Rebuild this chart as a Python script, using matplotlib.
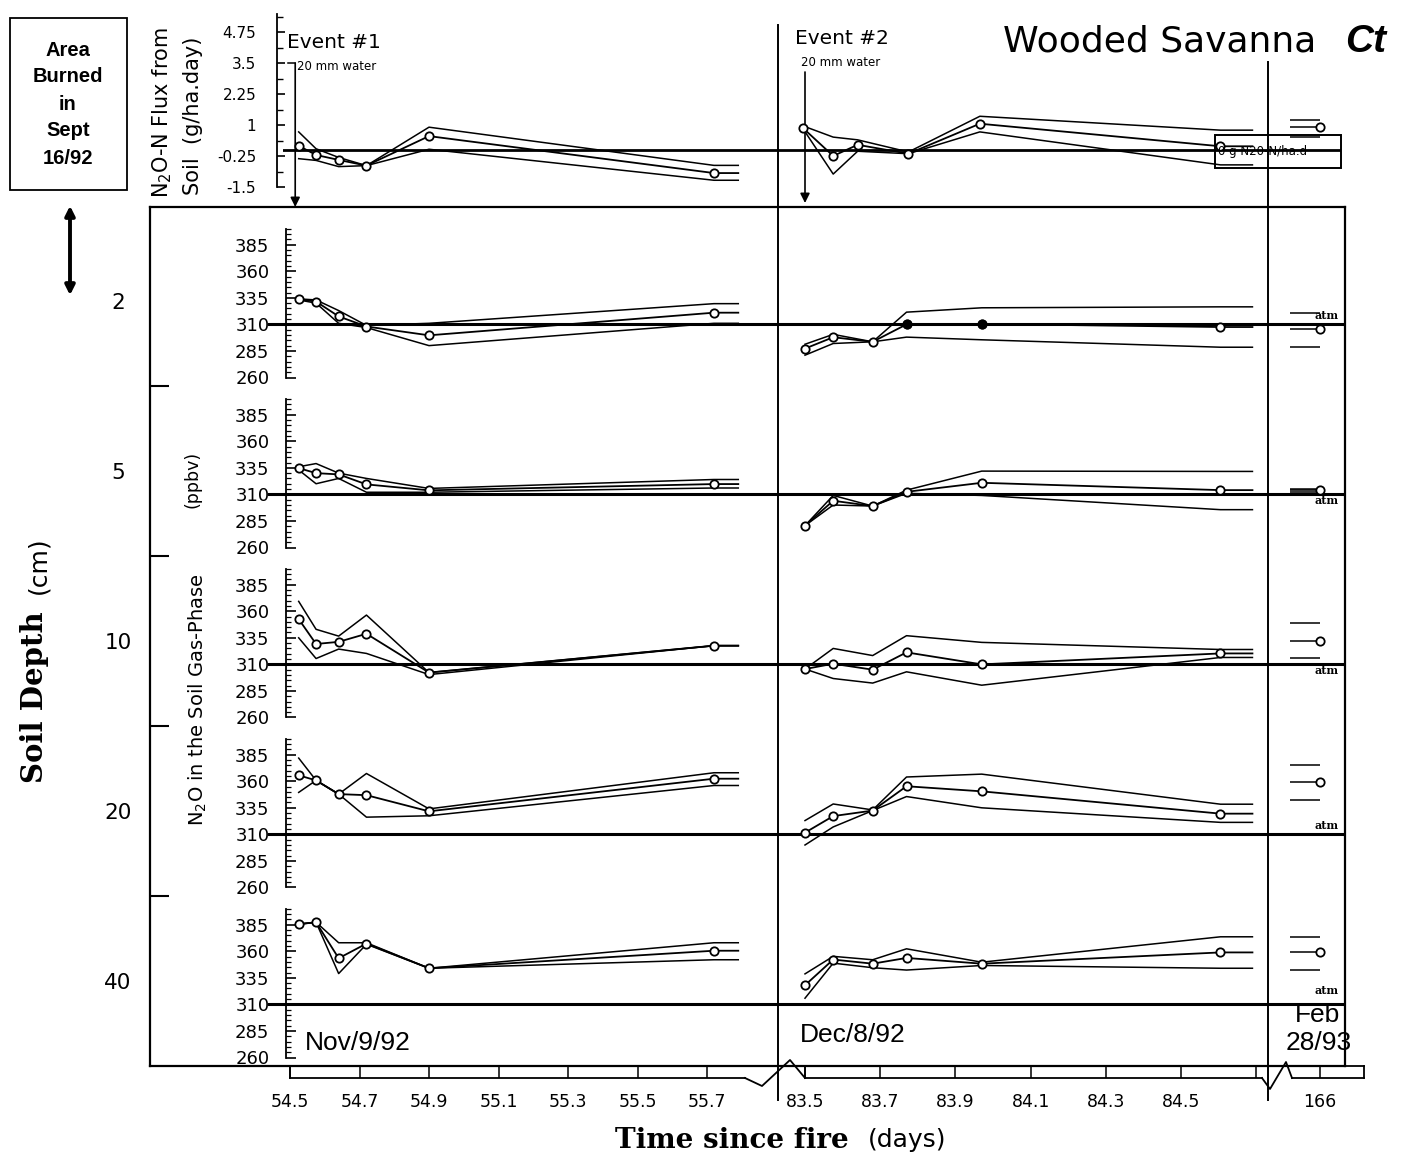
import matplotlib.pyplot as plt
from matplotlib.lines import Line2D
from matplotlib.patches import Rectangle, FancyArrowPatch
from matplotlib.transforms import blended_transform_factory

# ---------------- values ----------------
depths = ['2', '5', '10', '20', '40']

# sampling times (days since fire)
days_nov = [54.525, 54.575, 54.64, 54.72, 54.90, 55.72]
days_dec = [83.50, 83.575, 83.68, 83.77, 83.97, 84.605]
days_dec_flux = [83.495, 83.575, 83.64, 83.775, 83.965, 84.605]
day_feb = 166
end_nov = 55.79
end_dec = 84.69
event_days = [54.515, 83.5]

ticks_nov = [54.5, 54.7, 54.9, 55.1, 55.3, 55.5, 55.7]
ticks_dec = [83.5, 83.7, 83.9, 84.1, 84.3, 84.5, 84.7]
labels_dec = ['83.5', '83.7', '83.9', '84.1', '84.3', '84.5', '']
flux_ticks = [-1.5, -0.25, 1, 2.25, 3.5, 4.75]
ppbv_ticks = [260, 285, 310, 335, 360, 385]
atm_ppbv = 310

# N2O-N flux from soil (g/ha.day): mean, upper and lower envelope
flux_nov = [0.17, -0.2, -0.4, -0.63, 0.56, -0.93]
flux_nov_hi = [0.73, 0.05, -0.3, -0.63, 0.92, -0.62]
flux_nov_lo = [-0.35, -0.42, -0.67, -0.63, 0.03, -1.22]
flux_dec = [0.88, -0.24, 0.21, -0.15, 1.06, 0.15]
flux_dec_hi = [0.97, 0.52, 0.41, -0.08, 1.36, 0.8]
flux_dec_lo = [0.85, -0.97, -0.05, -0.15, 0.73, -0.6]
flux_feb = [1.21, 0.92, 0.51]  # hi, mean, lo

# N2O in the soil gas phase (ppbv), one list per depth
conc_nov = [[333.6, 331.5, 317.5, 308, 299.7, 321],
            [334.7, 330, 328.8, 319.4, 313.8, 319.7],
            [352.6, 329.2, 331.2, 338.8, 302.3, 327.6],
            [365.6, 360.8, 347.9, 346.9, 331.7, 362.4],
            [385.5, 387.3, 353.4, 367.2, 344, 360.5]]
conc_nov_hi = [[334, 333, 323, 309, 311, 329.5],
               [336, 339, 330, 325, 315.6, 324],
               [369.3, 343, 336.6, 356.4, 302.3, 327.6],
               [381.8, 360.8, 347.9, 367.3, 334, 368],
               [385.5, 387.3, 368, 368, 344, 368]]
conc_nov_lo = [[333, 330, 311, 307, 290, 311],
               [333, 320, 325, 312, 312, 316],
               [335, 315.5, 324.4, 320.3, 300.4, 327.6],
               [349.5, 360.8, 347.9, 326.2, 327.5, 356],
               [385.5, 387.3, 339, 366.6, 344, 352]]
conc_dec = [[287.2, 297.9, 293.6, 310, 310.4, 307.5],
            [280.6, 304, 299, 312.4, 320.9, 314],
            [305.6, 310.6, 305, 321.3, 310, 320.3],
            [311.6, 327.2, 332.4, 355.3, 350.5, 329.5],
            [328, 352.2, 348.3, 353.7, 348.3, 358.9]]
conc_dec_hi = [[291.3, 300.6, 293.6, 321.5, 325.6, 326.5],
               [280.6, 309, 299, 314, 331.9, 331.6],
               [305.6, 325, 318.3, 337, 330.7, 324],
               [323, 338.6, 333, 364, 366.7, 338.4],
               [338.7, 355.2, 352, 362.3, 349.7, 373.6]]
conc_dec_lo = [[281, 292, 293.6, 298, 295.5, 288.5],
               [280.6, 300, 299, 311, 309, 295.6],
               [305.6, 296.7, 292.4, 303, 290.4, 316.5],
               [300, 317, 332.4, 345.6, 335, 321.3],
               [315.8, 348.8, 344.5, 342.3, 346.6, 344]]
conc_feb = [[320.8, 305.3, 289],
            [315, 313.8, 312.5],
            [348.5, 332.4, 315.8],
            [375.6, 359.5, 342.3],
            [373.6, 358.9, 342.1]]
filled_dec = [[3, 4], [], [], [], []]

# ---------------- layout ----------------
W, H = 1406, 1156
fig = plt.figure(figsize=(W / 100, H / 100), dpi=100)
fig.patch.set_facecolor('white')

ROW_TOP, ROW_H = 216, 170
YLO, YHI = 252, 412
NOV = (54.5, 290, 347.5)     # reference day, pixel, pixels per day
DEC = (83.5, 805, 376.0)
FEB = (166, 1320, 376.0)
FLUX_ZERO_PX, FLUX_PX = 150, 24.8


def px_axes(x0, y0, x1, y1):
    ax = fig.add_axes([x0 / W, 1 - y1 / H, (x1 - x0) / W, (y1 - y0) / H])
    ax.patch.set_alpha(0)
    return ax


def bare(ax):
    for sp in ax.spines.values():
        sp.set_visible(False)
    ax.set_xticks([])
    ax.set_yticks([])


def day_lim(x0, x1, seg):
    d, p, ppd = seg
    return (d + (x0 - p) / ppd, d + (x1 - p) / ppd)


def fig_line(xs, ys, **kw):
    kw.setdefault('color', 'k')
    fig.add_artist(Line2D([x / W for x in xs], [1 - y / H for y in ys], **kw))


def fig_text(x, y, s, **kw):
    fig.text(x / W, 1 - y / H, s, **kw)


def draw_series(ax, t, mean, hi, lo, t_end, filled=()):
    xs = list(t) + [t_end]
    for ys in (hi, lo):
        ax.plot(xs, list(ys) + [ys[-1]], color='k', lw=1.1)
    ax.plot(xs, list(mean) + [mean[-1]], color='k', lw=1.3)
    ax.plot(t, mean, 'o', ms=6, mfc='white', mec='k', mew=1.3, zorder=5)
    for i in filled:
        ax.plot(t[i], mean[i], 'o', ms=6, mfc='k', mec='k', zorder=6)


def draw_feb(ax, vals):
    hi, mean, lo = vals
    ax.hlines([hi, mean, lo], day_feb - 0.08, day_feb, color='k', lw=1.1)
    ax.plot([day_feb], [mean], 'o', ms=6, mfc='white', mec='k', mew=1.3, zorder=5)


# outer frame holding the depth rows
frame = px_axes(150, 207, 1345, 1066)
frame.set_xlim(150, 1345)
frame.set_ylim(1066, 207)
for sp in frame.spines.values():
    sp.set_linewidth(1.6)
frame.set_xticks([])
frame.set_yticks([ROW_TOP + ROW_H * (k + 0.5) for k in range(len(depths))])
frame.set_yticklabels(depths, fontsize=15.5)
for lbl in frame.get_yticklabels():
    lbl.set_ha('center')
frame.tick_params(axis='y', which='major', length=0, pad=23)
frame.set_yticks([ROW_TOP + ROW_H * k for k in range(1, len(depths))], minor=True)
frame.tick_params(axis='y', which='minor', direction='in', length=14, width=1.5)

atm_offset = [8, -6, -6, 8, 13]

for k in range(len(depths)):
    top = ROW_TOP + ROW_H * k
    bot = top + ROW_H

    bg = px_axes(268, top, 1345, bot)
    bare(bg)
    bg.set_ylim(YLO, YHI)
    bg.axhline(atm_ppbv, color='k', lw=2.2)
    tr = blended_transform_factory(bg.transAxes, bg.transData)
    bg.text(0.994, atm_ppbv + atm_offset[k], 'atm', transform=tr, ha='right', va='center',
            fontsize=8, fontweight='bold', family='DejaVu Serif')

    a1 = px_axes(286, top, 778, bot)
    bare(a1)
    a1.set_xlim(day_lim(286, 778, NOV))
    a1.set_ylim(YLO, YHI)
    a1.spines['left'].set_visible(True)
    a1.spines['left'].set_linewidth(1.3)
    a1.spines['left'].set_bounds(260, 400)
    a1.set_yticks(ppbv_ticks)
    a1.set_yticks(list(range(260, 401, 5)), minor=True)
    a1.tick_params(axis='y', which='major', direction='in', length=7, width=1.2,
                   pad=12, labelsize=13)
    a1.tick_params(axis='y', which='minor', direction='in', length=3.5, width=0.9)
    draw_series(a1, days_nov, conc_nov[k], conc_nov_hi[k], conc_nov_lo[k], end_nov)

    a2 = px_axes(778, top, 1268, bot)
    bare(a2)
    a2.set_xlim(day_lim(778, 1268, DEC))
    a2.set_ylim(YLO, YHI)
    draw_series(a2, days_dec, conc_dec[k], conc_dec_hi[k], conc_dec_lo[k], end_dec,
                filled_dec[k])

    a3 = px_axes(1268, top, 1345, bot)
    bare(a3)
    a3.set_xlim(day_lim(1268, 1345, FEB))
    a3.set_ylim(YLO, YHI)
    draw_feb(a3, conc_feb[k])

# flux panel on top
flux_ylim = ((FLUX_ZERO_PX - 205) / FLUX_PX, (FLUX_ZERO_PX - 10) / FLUX_PX)

fbg = px_axes(283, 10, 1341, 205)
bare(fbg)
fbg.set_ylim(flux_ylim)
fbg.axhline(0, color='k', lw=2.0)

f1 = px_axes(277, 10, 778, 205)
bare(f1)
f1.set_xlim(day_lim(277, 778, NOV))
f1.set_ylim(flux_ylim)
f1.spines['left'].set_visible(True)
f1.spines['left'].set_linewidth(1.3)
f1.spines['left'].set_bounds(-1.5, 5.48)
f1.set_yticks(flux_ticks)
f1.set_yticklabels(['-1.5', '-0.25', '1', '2.25', '3.5', '4.75'])
f1.set_yticks([v + 0.625 for v in flux_ticks], minor=True)
f1.tick_params(axis='y', which='major', direction='in', length=6, width=1.2,
               pad=15, labelsize=11)
f1.tick_params(axis='y', which='minor', direction='in', length=4, width=1.0)
draw_series(f1, days_nov, flux_nov, flux_nov_hi, flux_nov_lo, end_nov)

f2 = px_axes(778, 10, 1268, 205)
bare(f2)
f2.set_xlim(day_lim(778, 1268, DEC))
f2.set_ylim(flux_ylim)
draw_series(f2, days_dec_flux, flux_dec, flux_dec_hi, flux_dec_lo, end_dec)

f3 = px_axes(1268, 10, 1345, 205)
bare(f3)
f3.set_xlim(day_lim(1268, 1345, FEB))
f3.set_ylim(flux_ylim)
draw_feb(f3, flux_feb)

# wetting events
for ax, d, y_top, y_bot in [(f1, event_days[0], 63, 207), (f2, event_days[1], 72, 203)]:
    ax.annotate('', xy=(d, 1 - y_bot / H), xytext=(d, 1 - y_top / H),
                xycoords=('data', 'figure fraction'), textcoords=('data', 'figure fraction'),
                arrowprops=dict(arrowstyle='-|>', color='k', lw=1.2, mutation_scale=14,
                                shrinkA=0, shrinkB=0),
                annotation_clip=False)
fig_line([288, 295], [63, 63], lw=1.1)
fig_text(287, 42, 'Event #1', fontsize=14.5, va='center')
fig_text(297, 67, '20 mm water', fontsize=8.5, va='center')
fig_text(795, 38, 'Event #2', fontsize=14.5, va='center')
fig_text(801, 62, '20 mm water', fontsize=8.5, va='center')

# zero-flux box
fig.add_artist(Rectangle((1215 / W, 1 - 168 / H), 126 / W, 33 / H, transform=fig.transFigure,
                         fill=False, ec='k', lw=1.4))
fig_text(1218, 152, '0 g N20-N/ha.d', fontsize=8.5, va='center')

# time axis strips
s1 = px_axes(290, 1066, 745, 1078)
s1.set_xlim(day_lim(290, 745, NOV))
s2 = px_axes(805, 1066, 1262, 1078)
s2.set_xlim(day_lim(805, 1262, DEC))
s3 = px_axes(1292, 1066, 1364, 1078)
s3.set_xlim(day_lim(1292, 1364, FEB))
for s, ticks, labels, sides in [(s1, ticks_nov, [str(v) for v in ticks_nov], ('bottom', 'left')),
                                (s2, ticks_dec, labels_dec, ('bottom', 'left')),
                                (s3, [day_feb], [str(day_feb)], ('bottom', 'right', 'top'))]:
    for name, sp in s.spines.items():
        sp.set_visible(name in sides)
        sp.set_linewidth(1.3)
    s.set_yticks([])
    s.set_xticks(ticks)
    s.set_xticklabels(labels)
    s.tick_params(axis='x', direction='in', length=8.6, width=1.1, pad=11, labelsize=12.5)

# breaks in the time axis
fig_line([745, 762, 790, 805], [1078, 1086, 1060, 1078], lw=1.3)
fig_line([1262, 1270, 1286, 1292], [1078, 1089, 1062, 1078], lw=1.3)

# dividers between the sampling periods
fig_line([778, 778], [25, 1100], lw=1.4)
fig_line([1268, 1268], [62, 1100], lw=1.4)

# dates
fig_text(305, 1043, 'Nov/9/92', fontsize=19, family='Liberation Sans', va='center')
fig_text(800, 1035, 'Dec/8/92', fontsize=19, family='Liberation Sans', va='center')
fig_text(1340, 1015, 'Feb', fontsize=19, family='Liberation Sans', va='center', ha='right')
fig_text(1352, 1043, '28/93', fontsize=19, family='Liberation Sans', va='center', ha='right')

# titles
fig_text(1003, 42, 'Wooded Savanna', fontsize=26, va='center')
fig_text(1345, 42, 'Ct', fontsize=28, family='Liberation Sans', fontweight='bold',
         fontstyle='italic', va='center')

# burn date box
fig.add_artist(Rectangle((10 / W, 1 - 190 / H), 117 / W, 172 / H, transform=fig.transFigure,
                         fill=False, ec='k', lw=1.3))
for i, line in enumerate(['Area', 'Burned', 'in', 'Sept', '16/92']):
    fig_text(68, 50 + 27 * i, line, fontsize=14.5, family='Liberation Sans',
             fontweight='bold', ha='center', va='center')
fig.add_artist(FancyArrowPatch((70 / W, 1 - 203 / H), (70 / W, 1 - 298 / H),
                               transform=fig.transFigure, arrowstyle='<|-|>',
                               mutation_scale=14, lw=2.8, color='k'))

# axis titles
fig_text(162, 112, r'N$_2$O-N Flux from', fontsize=15, rotation=90, ha='center', va='center')
fig_text(193, 116, 'Soil  (g/ha.day)', fontsize=15, rotation=90, ha='center', va='center')
fig_text(198, 700, r'N$_2$O in the Soil Gas-Phase', fontsize=14, rotation=90,
         ha='center', va='center')
fig_text(193, 479, '(ppbv)', fontsize=12.5, rotation=90, ha='center', va='center')
fig_text(35, 697, 'Soil Depth', fontsize=21, family='DejaVu Serif', fontweight='bold',
         rotation=90, ha='center', va='center')
fig_text(38, 565, '(cm)', fontsize=18, rotation=90, ha='center', va='center')
fig_text(615, 1140, 'Time since fire', fontsize=20, family='DejaVu Serif',
         fontweight='bold', va='center')
fig_text(868, 1140, '(days)', fontsize=18, va='center')

fig.savefig('out.png', dpi=100)
